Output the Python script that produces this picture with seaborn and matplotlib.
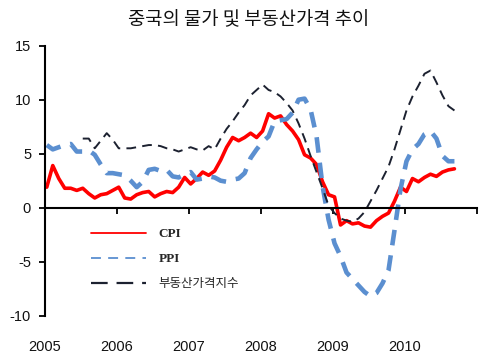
import numpy as np
import pandas as pd
import matplotlib
matplotlib.use("Agg")
import matplotlib.pyplot as plt
import seaborn as sns
from matplotlib.lines import Line2D

title = "중국의 물가 및 부동산가격 추이"
series_names = ["CPI", "PPI", "부동산가격지수"]
year_ticks = [2005, 2006, 2007, 2008, 2009, 2010, 2011]
year_labels = ["2005", "2006", "2007", "2008", "2009", "2010", ""]
y_ticks = [15, 10, 5, 0, -5, -10]

# monthly, Jan 2005 - Sep 2010
cpi = [1.9, 3.9, 2.7, 1.8, 1.8, 1.6, 1.8, 1.3, 0.9, 1.2, 1.3, 1.6,
       1.9, 0.9, 0.8, 1.2, 1.4, 1.5, 1.0, 1.3, 1.5, 1.4, 1.9, 2.8,
       2.2, 2.7, 3.3, 3.0, 3.4, 4.4, 5.6, 6.5, 6.2, 6.5, 6.9, 6.5,
       7.1, 8.7, 8.3, 8.5, 7.7, 7.1, 6.3, 4.9, 4.6, 4.0, 2.4, 1.2,
       1.0, -1.6, -1.2, -1.5, -1.4, -1.7, -1.8, -1.2, -0.8, -0.5, 0.6, 1.9,
       1.5, 2.7, 2.4, 2.8, 3.1, 2.9, 3.3, 3.5, 3.6]
ppi = [5.8, 5.4, 5.6, 5.8, 5.9, 5.2, 5.2, 5.3, 4.9, 4.0, 3.2, 3.2,
       3.1, 3.0, 2.5, 1.9, 2.4, 3.5, 3.6, 3.4, 3.5, 2.9, 2.8, 3.1,
       3.3, 2.6, 2.7, 2.9, 2.8, 2.5, 2.4, 2.6, 2.7, 3.2, 4.6, 5.4,
       6.1, 6.6, 8.0, 8.1, 8.2, 8.8, 10.0, 10.1, 9.1, 6.6, 2.0, -1.1,
       -3.3, -4.5, -6.0, -6.6, -7.2, -7.8, -8.2, -7.9, -7.0, -5.8, -2.1, 1.7,
       4.3, 5.4, 5.9, 6.8, 7.1, 6.4, 4.8, 4.3, 4.3]
house = [np.nan] * 6 + [6.4, 6.4, 5.5, 6.2, 6.9, 6.3,
       5.5, 5.5, 5.5, 5.6, 5.7, 5.8, 5.8, 5.7, 5.5, 5.4, 5.2, 5.4,
       5.6, 5.4, 5.3, 5.7, 5.4, 6.4, 7.3, 8.0, 8.8, 9.5, 10.4, 10.9,
       11.4, 10.9, 10.7, 10.3, 9.7, 9.0, 7.8, 6.4, 4.8, 3.3, 1.8, 0.2,
       -0.5, -1.0, -1.2, -1.3, -1.0, -0.4, 0.6, 1.6, 2.7, 3.8, 5.4, 7.2,
       9.0, 10.3, 11.3, 12.4, 12.7, 11.6, 10.4, 9.4, 9.0]

n = len(cpi)
month_idx = np.arange(n)
xpos = 2005 + (month_idx + 0.3) / 12.0

df = pd.concat([
    pd.DataFrame({"x": xpos, "value": cpi, "series": series_names[0]}),
    pd.DataFrame({"x": xpos, "value": ppi, "series": series_names[1]}),
    pd.DataFrame({"x": xpos, "value": house, "series": series_names[2]}),
], ignore_index=True)

sns.set_style("white")
plt.rcParams['font.family'] = ['Liberation Sans', 'Noto Sans CJK KR', 'DejaVu Sans']
plt.rcParams['axes.unicode_minus'] = False

fig = plt.figure(figsize=(4.97, 3.57), dpi=100)
ax = fig.add_axes([0.0905, 0.1157, 0.8685, 0.7563])

palette = {series_names[0]: "#FF0000", series_names[1]: "#5B8FD0", series_names[2]: "#1C2130"}
dashes = {series_names[0]: "", series_names[1]: (3.4, 2.2), series_names[2]: (5.0, 3.2)}
sizes = {series_names[0]: 2.6, series_names[1]: 3.3, series_names[2]: 1.4}

sns.lineplot(data=df, x="x", y="value", hue="series", style="series", size="series",
             palette=palette, dashes=dashes, sizes=sizes, ax=ax, legend=False,
             hue_order=series_names, style_order=series_names, size_order=series_names)

ax.set_xlim(2005, 2011)
ax.set_ylim(-10, 15)
ax.set_yticks(y_ticks)
ax.set_xticks(year_ticks)
ax.set_xticklabels(year_labels)
ax.set_xlabel("")
ax.set_ylabel("")

for s in ["top", "right"]:
    ax.spines[s].set_visible(False)
ax.spines["bottom"].set_position(("data", 0))
ax.spines["left"].set_color("#000000")
ax.spines["bottom"].set_color("#000000")
ax.spines["left"].set_linewidth(1.5)
ax.spines["bottom"].set_linewidth(1.5)
ax.tick_params(axis="y", direction="out", length=4, width=1.3, color="#000000",
               labelsize=10.5, pad=6)
ax.tick_params(axis="x", direction="out", length=4, width=1.3, color="#000000",
               labelsize=10.5, pad=91)
ax.tick_params(left=True, bottom=True)
for lab in ax.get_xticklabels() + ax.get_yticklabels():
    lab.set_color("#111111")

handles = [
    Line2D([], [], color=palette[series_names[0]], lw=1.3),
    Line2D([], [], color=palette[series_names[1]], lw=1.3, dashes=(5.5, 4)),
    Line2D([], [], color=palette[series_names[2]], lw=1.6, dashes=(7.5, 4)),
]
leg = ax.legend(handles, series_names, loc="upper left", bbox_to_anchor=(0.08, 0.365),
                frameon=False, handlelength=4.4, handletextpad=1.0, labelspacing=1.0,
                fontsize=9)
for t in leg.get_texts()[:2]:
    t.set_family(["Liberation Serif"])
    t.set_fontweight("bold")
    t.set_fontsize(9.5)
leg.get_texts()[2].set_family(["Noto Sans CJK KR", "DejaVu Sans"])

fig.text(0.5, 0.945, title, ha="center", va="center", fontsize=13.5,
         family=["Noto Sans CJK KR", "DejaVu Sans"], color="#111111")

fig.savefig("out.png", dpi=100)
